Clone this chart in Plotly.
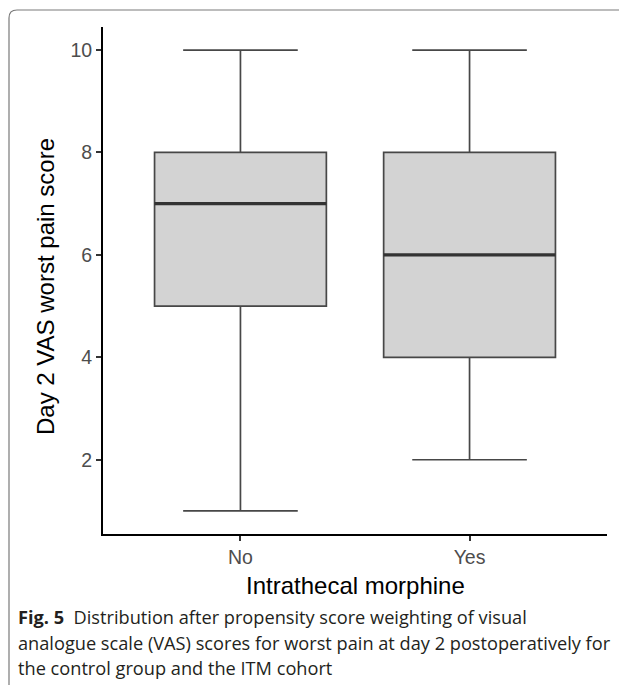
import plotly.graph_objects as go

# ---- data ----
categories = ["No", "Yes"]
lower_whisker = [1, 2]
q1_values = [5, 4]
median_values = [7, 6]
q3_values = [8, 8]
upper_whisker = [10, 10]
y_ticks = [2, 4, 6, 8, 10]
x_title = "Intrathecal morphine"
y_title = "Day 2 VAS worst pain score"
caption_lines = [
    "<b>Fig. 5</b>  Distribution after propensity score weighting of visual",
    "analogue scale (VAS) scores for worst pain at day 2 postoperatively for",
    "the control group and the ITM cohort",
]

# ---- layout geometry (pixels, in page coordinates; page has 8px body margin) ----
OFF = 8
W, H = 627 - OFF, 685 - OFF
L, R, T, B = 103 - OFF, 20, 27 - OFF, 685 - 534
PW, PH = W - L - R, H - T - B


def px_x(px):
    return (px - OFF - L) / PW


def px_y(py):
    return (H - B - (py - OFF)) / PH


BOX_W = 0.75
positions = list(range(1, len(categories) + 1))

fig = go.Figure()
for i, cat in enumerate(categories):
    fig.add_trace(go.Box(
        x=[positions[i]],
        q1=[q1_values[i]], median=[median_values[i]], q3=[q3_values[i]],
        lowerfence=[lower_whisker[i]], upperfence=[upper_whisker[i]],
        width=BOX_W, whiskerwidth=0.667,
        fillcolor="#d3d3d3",
        line=dict(color="#474747", width=1.7),
        boxpoints=False, name=cat, showlegend=False, hoverinfo="skip",
    ))
    # thicker median line (ggplot fatten)
    fig.add_trace(go.Scatter(
        x=[positions[i] - BOX_W / 2, positions[i] + BOX_W / 2],
        y=[median_values[i], median_values[i]],
        mode="lines", line=dict(color="#333333", width=3.2),
        showlegend=False, hoverinfo="skip",
    ))

tick_font = dict(family="Liberation Sans, Arial, sans-serif", size=19.5, color="#4d4d4d")
title_font = dict(family="Liberation Sans, Arial, sans-serif", size=24, color="black")

fig.update_xaxes(
    range=[0.4, len(categories) + 0.6], tickvals=positions, ticktext=categories,
    showline=True, linecolor="black", linewidth=2, ticks="outside", ticklen=5,
    tickwidth=2, tickcolor="#333333", showgrid=False, zeroline=False,
    tickfont=tick_font,
)
fig.update_yaxes(
    range=[0.55, 10.45], tickvals=y_ticks,
    showline=True, linecolor="black", linewidth=2, ticks="outside", ticklen=5,
    tickwidth=2, tickcolor="#333333", showgrid=False, zeroline=False,
    tickfont=tick_font,
)

annotations = [
    dict(text=x_title, x=0.5, y=px_y(585), xref="paper", yref="paper",
         xanchor="center", yanchor="middle", showarrow=False, font=title_font),
    dict(text=y_title, x=px_x(45), y=px_y(287), xref="paper", yref="paper",
         xanchor="center", yanchor="middle", showarrow=False, font=title_font,
         textangle=-90),
]
cap_font = dict(family="Open Sans, Noto Sans, sans-serif", size=18.2, color="#231f20")
for k, line in enumerate(caption_lines):
    annotations.append(dict(
        text=line, x=px_x(16), y=px_y(617 + 25.5 * k), xref="paper", yref="paper",
        xanchor="left", yanchor="middle", showarrow=False, font=cap_font, align="left",
    ))

# rounded frame around the figure
r = 8
frame_path = (
    f"M {px_x(9)},{px_y(700)} L {px_x(9)},{px_y(10 + r)} "
    f"Q {px_x(9)},{px_y(10)} {px_x(9 + r)},{px_y(10)} L {px_x(640)},{px_y(10)}"
)

fig.update_layout(
    width=W, height=H,
    margin=dict(l=L, r=R, t=T, b=B, autoexpand=False),
    paper_bgcolor="white", plot_bgcolor="white",
    annotations=annotations,
    shapes=[dict(type="path", path=frame_path, xref="paper", yref="paper",
                 line=dict(color="#7a7a7a", width=1.2), layer="above")],
    showlegend=False,
)

fig.write_html("out.html")
